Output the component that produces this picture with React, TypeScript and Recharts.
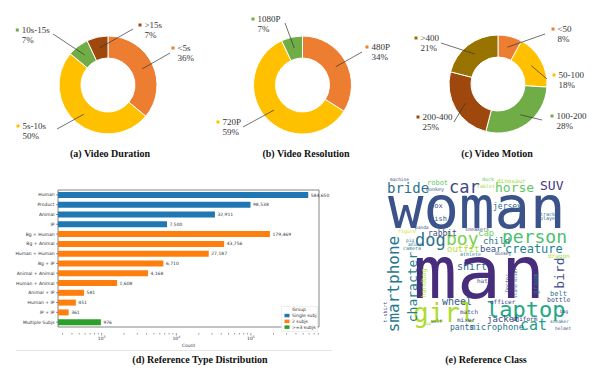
import React from "react";
import {
  PieChart, Pie, Cell, BarChart, Bar, XAxis, YAxis, LabelList, ReferenceArea,
  Legend, ScatterChart, Scatter,
} from "recharts";

const RADIAN = Math.PI / 180;

// (a) video duration, share in %
const durationNames = ["<5s", "5s-10s", "10s-15s", ">15s"];
const durationShares = [36, 50, 7, 7];
// (b) video resolution
const resolutionNames = ["480P", "720P", "1080P"];
const resolutionShares = [34, 59, 7];
// (c) video motion
const motionNames = ["<50", "50-100", "100-200", "200-400", ">400"];
const motionShares = [8, 18, 28, 25, 21];

// (d) reference type distribution
const refTypes = [
  "Human", "Product", "Animal", "IP", "Bg + Human", "Bg + Animal", "Human + Human",
  "Bg + IP", "Animal + Animal", "Human + Animal", "Animal + IP", "Human + IP", "IP + IP",
  "Multiple Subjs",
];
const refCounts = [584650, 98538, 32911, 7500, 179469, 43756, 27187, 6710, 4168, 1608, 581, 451, 361, 976];
const refGroups = [0, 0, 0, 0, 1, 1, 1, 1, 1, 1, 1, 1, 1, 2];
const groupNames = ["Single subj", "2 subjs", ">=3 subjs"];
const countTicks = [1000, 10000, 100000];

// (e) reference class word cloud: [word, x, y, size, vertical]
const cloudWords: [string, number, number, number, boolean][] = [
  ["woman", 5, 53, 59, false],
  ["man", 30, 123, 73, false],
  ["girl", 30, 147, 26, false],
  ["laptop", 103, 142, 22, false],
  ["cat", 137, 155, 15, false],
  ["dog", 32, 71, 17, false],
  ["boy", 63, 70, 18, false],
  ["person", 119, 68, 18, false],
  ["creature", 122, 78, 12, false],
  ["horse", 112, 17, 13, false],
  ["SUV", 157, 15, 13, false],
  ["bride", 4, 18, 14, false],
  ["car", 66, 18, 17, false],
  ["shirt", 74, 95, 10, false],
  ["bear", 97, 77, 9, false],
  ["child", 100, 69, 9, false],
  ["cap", 95, 61, 9, false],
  ["outfit", 64, 77, 9, false],
  ["rabbit", 45, 61, 8, false],
  ["fish", 47, 46, 7, false],
  ["box", 47, 33, 7, false],
  ["jersey", 110, 34, 8, false],
  ["wheel", 59, 130, 10, false],
  ["jacket", 104, 147, 9, false],
  ["uniform", 129, 146, 6, false],
  ["microphone", 87, 155, 9, false],
  ["pants", 67, 155, 8, false],
  ["mixer", 74, 147, 6, false],
  ["match", 77, 139, 6, false],
  ["belt", 167, 121, 7, false],
  ["bottle", 164, 127, 6.5, false],
  ["officer", 107, 129, 6, false],
  ["robot", 44, 10, 7, false],
  ["dinosaur", 114, 8, 6, false],
  ["hat", 94, 108, 6, false],
  ["dragon", 165, 83, 6, false],
  ["sneaker", 167, 148, 4.5, false],
  ["helmet", 172, 155, 4.5, false],
  ["bag", 177, 138, 4.5, false],
  ["athlete", 77, 81, 5, false],
  ["monkey", 43, 16, 5, false],
  ["machine", 7, 6, 4.5, false],
  ["duck", 99, 6, 5, false],
  ["tablet", 94, 13, 5, false],
  ["panda", 32, 54, 4.5, false],
  ["pig", 23, 67, 4.5, false],
  ["animal", 25, 71, 4.5, false],
  ["figure", 15, 58, 5, false],
  ["camera", 20, 75, 5, false],
  ["sneakers", 82, 56, 5, false],
  ["track", 157, 41, 5, false],
  ["player", 157, 45, 5, false],
  ["donkey", 112, 80, 4.5, false],
  ["cup", 40, 150, 4.5, false],
  ["wolf", 48, 148, 4.5, false],
  ["smartphone", 10, 109, 16, true],
  ["character", 29, 112, 13, true],
  ["bird", 176, 98, 13, true],
  ["handbag", 41, 108, 7, true],
  ["groom", 153, 109, 7, true],
  ["Doctor", 124, 108, 5, true],
  ["stand mixer", 132, 108, 4.5, true],
  ["t-shirt", 2, 137, 5, true],
];
const cloudColors = [
  "#3b528b", "#472d7b", "#addc30", "#22a884", "#1f9e89", "#2c728e", "#7ad151", "#4ac16d",
  "#26828e", "#5ec962", "#443983", "#2c728e", "#3e4989", "#31688e", "#3b528b", "#2a788e",
  "#6ece58", "#b5de2b", "#3e4989", "#35608d", "#3b528b", "#31688e", "#355f8d", "#3e4989",
  "#46327e", "#2a788e", "#31688e", "#3b528b", "#3e4a89", "#2c728e", "#3b528b", "#404688",
  "#5ec962", "#a0da39", "#3b528b", "#a8db34", "#31688e", "#3b528b", "#414487", "#26828e",
  "#35608d", "#3e4989", "#5ec962", "#a0da39", "#3b528b", "#2a788e", "#31688e", "#d0e11c",
  "#26828e", "#3b528b", "#2c728e", "#31688e", "#3e4989", "#a0da39", "#3b528b",
  "#2a788e", "#277f8e", "#3e4a89", "#b5de2b", "#2a788e", "#3b528b", "#31688e", "#3e4989",
];

const sliceColors = {
  orange: "#ed7d31",
  gold: "#ffc000",
  green: "#70ad47",
  brown: "#9e480e",
  olive: "#997300",
};
const groupColors = ["#1f77b4", "#ff7f0e", "#2ca02c"];

// label marker / leader-line end, relative to pie centre
const durationSpots = [
  { mx: 65, my: -37, lx: 62, ly: -32 },
  { mx: -90, my: 41, lx: -51, ly: 44 },
  { mx: -90.7, my: -55, lx: -55, ly: -51 },
  { mx: 32, my: -60, lx: 25, ly: -56 },
];
const resolutionSpots = [
  { mx: 64.5, my: -38, lx: 59.5, ly: -33 },
  { mx: -84.5, my: 37, lx: -59.5, ly: 42 },
  { mx: -49.5, my: -66, lx: -17.5, ly: -62 },
];
const motionSpots = [
  { mx: 55, my: -55, lx: 47, ly: -50 },
  { mx: 56, my: -9, lx: 49, ly: -5 },
  { mx: 54, my: 32, lx: 44, ly: 36 },
  { mx: -80, my: 33, lx: -44, ly: 38 },
  { mx: -82, my: -46, lx: -57, ly: -41 },
];

const serif = "'Liberation Serif', 'Times New Roman', serif";
const sans = "'DejaVu Sans', sans-serif";

const pieLabel = (names: string[], shares: number[], colors: string[], spots: any[]) => (props: any) => {
  const { cx, cy, midAngle, innerRadius, outerRadius, index } = props;
  const r = (innerRadius + outerRadius) / 2;
  const sx = cx + r * Math.cos(-midAngle * RADIAN);
  const sy = cy + r * Math.sin(-midAngle * RADIAN);
  const s = spots[index];
  const mx = cx + s.mx;
  const my = cy + s.my;
  return (
    <g key={`lbl-${index}`}>
      <line x1={sx} y1={sy} x2={cx + s.lx} y2={cy + s.ly} stroke="#333" strokeWidth={0.7} />
      <rect x={mx - 1.5} y={my - 1.5} width={3} height={3} fill={colors[index]} />
      <text x={mx + 4.5} y={my + 3} fontSize={9} fontFamily={serif} fill="#333">{names[index]}</text>
      <text x={mx + 4.5} y={my + 13} fontSize={9} fontFamily={serif} fill="#333">{shares[index]}%</text>
    </g>
  );
};

const Donut = ({ names, shares, colors, spots, cx, cy }: any) => {
  const data = names.map((n: string, i: number) => ({ name: n, value: shares[i] }));
  return (
    <PieChart width={200} height={150}>
      <Pie
        data={data}
        dataKey="value"
        cx={cx}
        cy={cy}
        innerRadius={27}
        outerRadius={49}
        startAngle={90}
        endAngle={-270}
        stroke="#fff"
        strokeWidth={1}
        labelLine={false}
        label={pieLabel(names, shares, colors, spots)}
        isAnimationActive={false}
      >
        {data.map((_: any, i: number) => (
          <Cell key={i} fill={colors[i]} />
        ))}
      </Pie>
    </PieChart>
  );
};

const Title = ({ text, x, y }: { text: string; x: number; y: number }) => (
  <div
    style={{
      position: "absolute", left: x - 110, top: y - 7, width: 220, textAlign: "center",
      fontFamily: serif, fontWeight: "bold", fontSize: 10, lineHeight: "14px", color: "#111",
    }}
  >
    {text}
  </div>
);

const minorTicks = [2, 3, 4, 5, 6, 7, 8, 9]
  .flatMap((m) => [m * 100, m * 1000, m * 10000, m * 100000])
  .filter((v) => v > 260 && v < 815000);

const LogTick = ({ x, y, payload }: any) => {
  const v = payload.value;
  const major = countTicks.includes(v);
  return (
    <g>
      <line x1={x} x2={x} y1={y} y2={y + (major ? 2.5 : 1.5)} stroke="#333" strokeWidth={0.5} />
      {major && (
        <text x={x} y={y + 7} textAnchor="middle" fontSize={4.5} fontFamily={sans} fill="#333">
          10<tspan dy={-1.8} fontSize={3.2}>{Math.round(Math.log10(v))}</tspan>
        </text>
      )}
    </g>
  );
};

const CatTick = ({ x, y, payload }: any) => (
  <text x={x} y={y} dy={1.6} textAnchor="end" fontSize={4.5} fontFamily={sans} fill="#333">
    {payload.value}
  </text>
);

const GroupLegend = () => (
  <svg width={37} height={26} style={{ display: "block" }}>
    <rect x={0.3} y={0.3} width={36.4} height={25.4} rx={1} fill="#fff" fillOpacity={0.85} stroke="#d6d6d6" strokeWidth={0.5} />
    <text x={18} y={5.2} textAnchor="middle" fontSize={4.5} fontFamily={sans} fill="#333">Group</text>
    {groupNames.map((g, i) => (
      <g key={g}>
        <rect x={3.5} y={7.8 + i * 5.8} width={5} height={3.5} fill={groupColors[i]} />
        <text x={11} y={11 + i * 5.8} fontSize={4.5} fontFamily={sans} fill="#333">{g}</text>
      </g>
    ))}
  </svg>
);

const WordShape = (props: any) => {
  const { cx, cy, payload } = props;
  const common = {
    fontFamily: "'DejaVu Sans Mono', monospace",
    fontSize: payload.size,
    fill: payload.color,
  };
  if (payload.vertical) {
    return (
      <text x={cx} y={cy} {...common} textAnchor="middle" dominantBaseline="central" transform={`rotate(-90 ${cx} ${cy})`}>
        {payload.word}
      </text>
    );
  }
  return (
    <text x={cx} y={cy} {...common} textAnchor="start">
      {payload.word}
    </text>
  );
};

export default function App() {
  const barData = refTypes.map((t, i) => ({ name: t, count: refCounts[i], group: refGroups[i] }));
  const cloud = cloudWords.map(([word, x, y, size, vertical], i) => ({
    word, x, y, size, vertical, color: cloudColors[i % cloudColors.length],
  }));
  const c = sliceColors;

  return (
    <div style={{ position: "absolute", left: 0, top: 0, width: 600, height: 378, background: "#fff", overflow: "hidden" }}>
      <div style={{ position: "absolute", left: 0, top: 0 }}>
        <Donut names={durationNames} shares={durationShares} colors={[c.orange, c.gold, c.green, c.brown]} spots={durationSpots} cx={103} cy={80} />
      </div>
      <div style={{ position: "absolute", left: 200, top: 0 }}>
        <Donut names={resolutionNames} shares={resolutionShares} colors={[c.orange, c.gold, c.green]} spots={resolutionSpots} cx={97.5} cy={80} />
      </div>
      <div style={{ position: "absolute", left: 400, top: 0 }}>
        <Donut names={motionNames} shares={motionShares} colors={[c.orange, c.gold, c.green, c.brown, c.olive]} spots={motionSpots} cx={93} cy={79} />
      </div>
      <Title text="(a) Video Duration" x={110} y={154} />
      <Title text="(b) Video Resolution" x={306} y={154} />
      <Title text="(c) Video Motion" x={497} y={154} />

      <div style={{ position: "absolute", left: 0, top: 170 }}>
        <BarChart width={330} height={180} data={barData} layout="vertical" margin={{ top: 14, right: 11, bottom: 0, left: 0 }} barCategoryGap="20%">
          <XAxis
            type="number"
            dataKey="count"
            scale="log"
            domain={[260, 815000]}
            allowDataOverflow
            ticks={[...countTicks, ...minorTicks]}
            interval={0}
            tick={<LogTick />}
            tickLine={false}
            tickSize={0}
            tickMargin={0}
            axisLine={false}
            height={17}
            label={{ value: "Count", position: "insideBottom", offset: 3, fontSize: 4.5, fill: "#333", fontFamily: sans }}
          />
          <YAxis
            type="category"
            dataKey="name"
            width={58}
            padding={{ top: 6, bottom: 6 }}
            interval={0}
            tick={<CatTick />}
            tickSize={2}
            tickMargin={1.5}
            tickLine={{ stroke: "#333", strokeWidth: 0.5 }}
            axisLine={false}
          />
          <ReferenceArea x1={260} x2={815000} fill="none" stroke="#333" strokeWidth={0.6} ifOverflow="visible" />
          <Bar dataKey="count" isAnimationActive={false}>
            {barData.map((d, i) => (
              <Cell key={i} fill={groupColors[d.group]} />
            ))}
            <LabelList
              dataKey="count"
              position="right"
              offset={2.5}
              fontSize={4.5}
              fill="#333"
              fontFamily={sans}
              formatter={(v: any) => Number(v).toLocaleString("en-US")}
            />
          </Bar>
          <Legend
            layout="vertical"
            align="center"
            verticalAlign="middle"
            content={<GroupLegend />}
            wrapperStyle={{ position: "absolute", left: 281, top: 136, width: 37, height: 26 }}
          />
        </BarChart>
      </div>
      <div style={{ position: "absolute", left: 16, top: 350, width: 316, height: 0, borderTop: "0.6px solid #e6e6e6" }} />

      <div style={{ position: "absolute", left: 383, top: 175 }}>
        <ScatterChart width={190} height={160} margin={{ top: 0, right: 0, bottom: 0, left: 0 }}>
          <XAxis type="number" dataKey="x" domain={[0, 190]} allowDataOverflow hide />
          <YAxis type="number" dataKey="y" domain={[0, 160]} allowDataOverflow reversed hide />
          <Scatter data={cloud} shape={<WordShape />} isAnimationActive={false} />
        </ScatterChart>
      </div>

      <Title text="(d) Reference Type Distribution" x={200} y={360} />
      <Title text="(e) Reference Class" x={486} y={360} />
    </div>
  );
}
